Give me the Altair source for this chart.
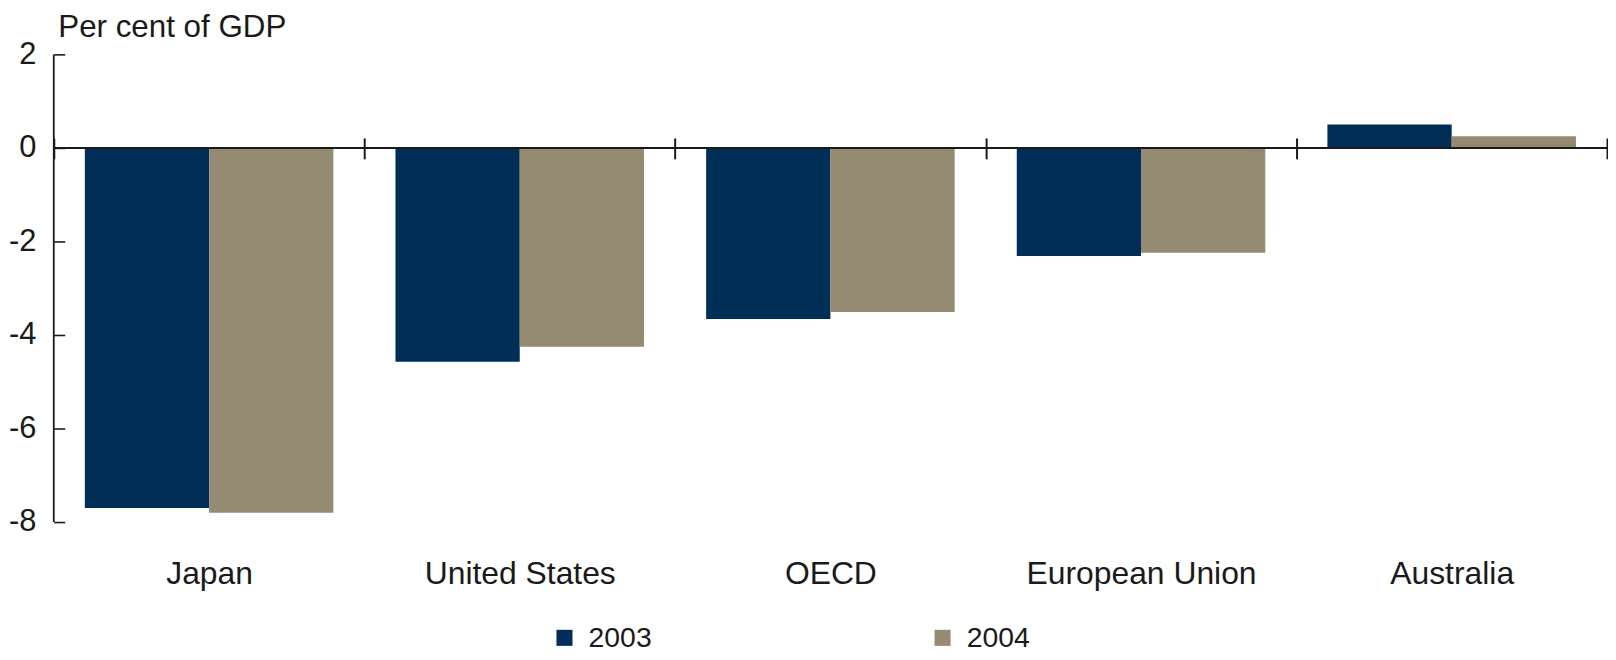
import altair as alt
import pandas as pd

countries = ["Japan", "United States", "OECD", "European Union", "Australia"]
years = ["2003", "2004"]
v2003 = [-7.7, -4.57, -3.66, -2.31, 0.5]
v2004 = [-7.8, -4.25, -3.51, -2.24, 0.25]
y_ticks = [2, 0, -2, -4, -6, -8]

rows = []
for c, a, b in zip(countries, v2003, v2004):
    rows.append({"Country": c, "Year": years[0], "Value": a})
    rows.append({"Country": c, "Year": years[1], "Value": b})
df = pd.DataFrame(rows)

NAVY = "#002E57"
TAN = "#958A72"
INK = "#1a1a1a"
FONT = "Liberation Sans"

y_scale = alt.Scale(domain=[y_ticks[-1], y_ticks[0]], nice=False, zero=False)
y_axis = alt.Axis(
    values=y_ticks, orient="left", offset=-11, tickSize=11, domain=False, grid=False,
    labelPadding=18, labelFontSize=31, labelColor=INK, labelFont=FONT,
    labelExpr="datum.value + ''",
    tickColor=INK, tickWidth=1.6,
    title="Per cent of GDP", titleAngle=0, titleX=-7, titleY=-18,
    titleAlign="left", titleBaseline="alphabetic", titleFontSize=31.5,
    titleFontWeight="normal", titleColor=INK, titleFont=FONT,
)

bars = alt.Chart(df).mark_bar(strokeWidth=0).encode(
    x=alt.X(
        "Country:N",
        sort=countries,
        scale=alt.Scale(paddingInner=0, paddingOuter=0),
        axis=alt.Axis(
            title=None, orient="bottom", offset=-386, tickSize=21, tickBand="extent",
            domain=False, labelPadding=402, labelFontSize=32, labelColor=INK,
            tickColor=INK, tickWidth=2, labelAngle=0, labelFont=FONT, labelLimit=0,
        ),
    ),
    xOffset=alt.XOffset("Year:N", sort=years, scale=alt.Scale(paddingInner=0, paddingOuter=0.25)),
    y=alt.Y("Value:Q", scale=y_scale, axis=y_axis, title="Per cent of GDP"),
    color=alt.Color(
        "Year:N",
        scale=alt.Scale(domain=years, range=[NAVY, TAN]),
        legend=alt.Legend(
            orient="none", legendX=499, legendY=572, direction="horizontal", title=None,
            symbolType="square", symbolSize=260, labelFontSize=28.5, labelColor=INK,
            labelFont=FONT, columnPadding=278, labelOffset=10, symbolStrokeWidth=0,
            padding=0,
        ),
    ),
)

zero = alt.Chart(pd.DataFrame({"zero": [0]})).mark_rule(color=INK, strokeWidth=2).encode(
    y=alt.Y("zero:Q", scale=y_scale, axis=y_axis, title="Per cent of GDP")
)

yline = alt.Chart(pd.DataFrame({"top": [y_ticks[0]], "bottom": [y_ticks[-1]]})).mark_rule(
    color=INK, strokeWidth=1.8
).encode(
    x=alt.value(0),
    y=alt.Y("top:Q", scale=y_scale, axis=y_axis, title="Per cent of GDP"),
    y2="bottom:Q",
)

chart = alt.layer(bars, zero, yline).properties(
    width=1561,
    height=470,
    autosize=alt.AutoSizeParams(type="none"),
    padding={"left": 46, "top": 45, "right": 1, "bottom": 130},
).configure(font=FONT).configure_view(stroke=None)

chart.save("out.html", embed_options={"renderer": "svg", "actions": False})
